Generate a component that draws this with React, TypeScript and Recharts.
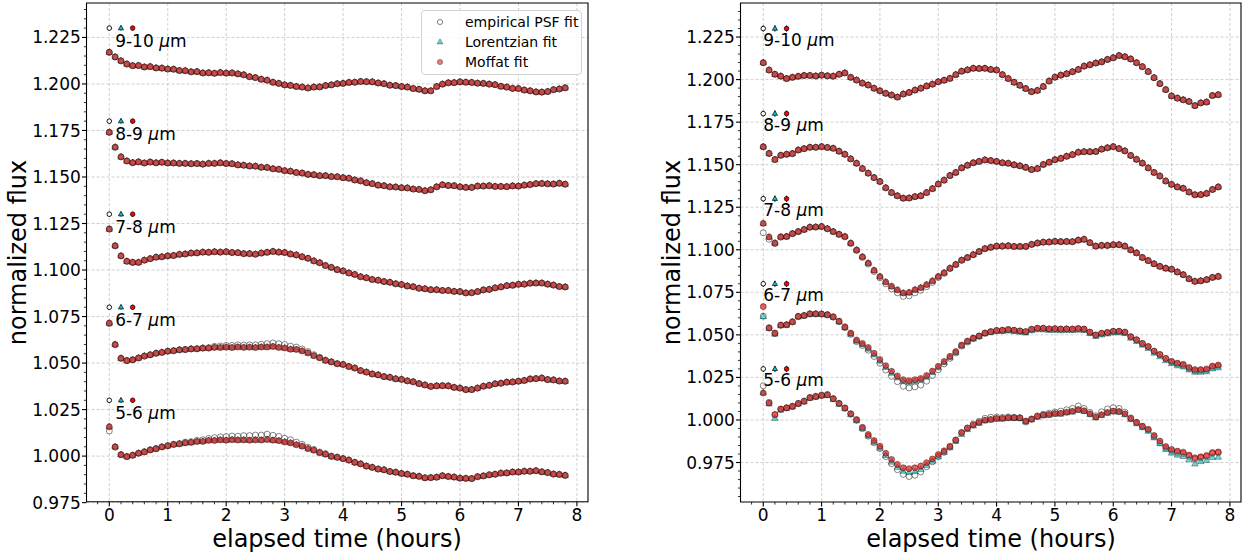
import { ScatterChart, Scatter, XAxis, YAxis, CartesianGrid, ReferenceArea, ErrorBar } from 'recharts'

const FONT = '"DejaVu Sans", sans-serif'

// elapsed time grid (hours)
const TIME = [
  0.0, 0.1, 0.2, 0.3, 0.4, 0.5, 0.6, 0.7, 0.8, 0.9,
  1.0, 1.1, 1.2, 1.3, 1.4, 1.5, 1.6, 1.7, 1.8, 1.9,
  2.0, 2.1, 2.2, 2.3, 2.4, 2.5, 2.6, 2.7, 2.8, 2.9,
  3.0, 3.1, 3.2, 3.3, 3.4, 3.5, 3.6, 3.7, 3.8, 3.9,
  4.0, 4.1, 4.2, 4.3, 4.4, 4.5, 4.6, 4.7, 4.8, 4.9,
  5.0, 5.1, 5.2, 5.3, 5.4, 5.5, 5.6, 5.7, 5.8, 5.9,
  6.0, 6.1, 6.2, 6.3, 6.4, 6.5, 6.6, 6.7, 6.8, 6.9,
  7.0, 7.1, 7.2, 7.3, 7.4, 7.5, 7.6, 7.7, 7.8,
]

// ---- left panel bands ----
const L910 = [
  1.2170, 1.2145, 1.2124, 1.2107, 1.2098, 1.2099, 1.2091, 1.2093, 1.2086, 1.2085,
  1.2080, 1.2079, 1.2072, 1.2071, 1.2065, 1.2066, 1.2059, 1.2060, 1.2057, 1.2061,
  1.2058, 1.2059, 1.2054, 1.2049, 1.2039, 1.2034, 1.2025, 1.2020, 1.2009, 1.2003,
  1.1995, 1.1992, 1.1986, 1.1983, 1.1978, 1.1983, 1.1984, 1.1991, 1.1995, 1.2001,
  1.2003, 1.2008, 1.2009, 1.2013, 1.2012, 1.2011, 1.2005, 1.2001, 1.1993, 1.1991,
  1.1986, 1.1983, 1.1975, 1.1971, 1.1963, 1.1963, 1.1986, 1.1999, 1.2006, 1.2007,
  1.2011, 1.2009, 1.2008, 1.2004, 1.2003, 1.1999, 1.1996, 1.1987, 1.1983, 1.1976,
  1.1975, 1.1967, 1.1963, 1.1957, 1.1956, 1.1959, 1.1969, 1.1973, 1.1979,
]
const L89 = [
  1.1740, 1.1660, 1.1608, 1.1586, 1.1577, 1.1581, 1.1575, 1.1580, 1.1576, 1.1579,
  1.1575, 1.1575, 1.1573, 1.1573, 1.1571, 1.1572, 1.1569, 1.1573, 1.1573, 1.1576,
  1.1572, 1.1571, 1.1565, 1.1563, 1.1559, 1.1558, 1.1552, 1.1551, 1.1544, 1.1541,
  1.1534, 1.1531, 1.1524, 1.1521, 1.1514, 1.1512, 1.1507, 1.1507, 1.1502, 1.1501,
  1.1496, 1.1493, 1.1484, 1.1479, 1.1469, 1.1464, 1.1456, 1.1453, 1.1447, 1.1446,
  1.1442, 1.1441, 1.1435, 1.1433, 1.1426, 1.1431, 1.1447, 1.1458, 1.1454, 1.1453,
  1.1447, 1.1444, 1.1444, 1.1451, 1.1451, 1.1453, 1.1449, 1.1449, 1.1448, 1.1452,
  1.1451, 1.1456, 1.1459, 1.1464, 1.1465, 1.1463, 1.1462, 1.1466, 1.1461,
]
const L78 = [
  1.1220, 1.1130, 1.1076, 1.1047, 1.1041, 1.1041, 1.1053, 1.1061, 1.1069, 1.1071,
  1.1076, 1.1078, 1.1084, 1.1086, 1.1091, 1.1092, 1.1096, 1.1095, 1.1098, 1.1096,
  1.1098, 1.1094, 1.1093, 1.1088, 1.1088, 1.1085, 1.1091, 1.1095, 1.1100, 1.1096,
  1.1094, 1.1086, 1.1081, 1.1071, 1.1063, 1.1049, 1.1039, 1.1024, 1.1014, 1.1002,
  1.0995, 1.0984, 1.0976, 1.0964, 1.0958, 1.0949, 1.0945, 1.0938, 1.0934, 1.0926,
  1.0922, 1.0914, 1.0910, 1.0902, 1.0899, 1.0894, 1.0894, 1.0890, 1.0890, 1.0885,
  1.0884, 1.0877, 1.0878, 1.0884, 1.0893, 1.0896, 1.0904, 1.0909, 1.0916, 1.0918,
  1.0923, 1.0924, 1.0929, 1.0930, 1.0930, 1.0924, 1.0919, 1.0911, 1.0909,
]
const L67 = [
  1.0715, 1.0600, 1.0526, 1.0513, 1.0518, 1.0527, 1.0538, 1.0544, 1.0553, 1.0557,
  1.0564, 1.0566, 1.0571, 1.0572, 1.0576, 1.0576, 1.0580, 1.0580, 1.0584, 1.0583,
  1.0585, 1.0583, 1.0586, 1.0584, 1.0585, 1.0583, 1.0586, 1.0586, 1.0589, 1.0584,
  1.0581, 1.0574, 1.0573, 1.0565, 1.0554, 1.0539, 1.0528, 1.0514, 1.0506, 1.0496,
  1.0492, 1.0481, 1.0473, 1.0459, 1.0451, 1.0441, 1.0436, 1.0427, 1.0423, 1.0415,
  1.0412, 1.0404, 1.0399, 1.0389, 1.0382, 1.0374, 1.0377, 1.0378, 1.0377, 1.0369,
  1.0365, 1.0357, 1.0357, 1.0365, 1.0375, 1.0380, 1.0388, 1.0391, 1.0397, 1.0398,
  1.0402, 1.0406, 1.0414, 1.0416, 1.0419, 1.0411, 1.0409, 1.0403, 1.0402,
]
const L67_EMP = [
  1.0712, 1.0598, 1.0525, 1.0514, 1.0517, 1.0528, 1.0537, 1.0545, 1.0552, 1.0558,
  1.0564, 1.0567, 1.0571, 1.0574, 1.0576, 1.0578, 1.0581, 1.0583, 1.0590, 1.0592,
  1.0595, 1.0595, 1.0598, 1.0597, 1.0598, 1.0598, 1.0601, 1.0604, 1.0608, 1.0604,
  1.0600, 1.0591, 1.0586, 1.0576, 1.0562, 1.0545, 1.0531, 1.0516, 1.0507, 1.0497,
  1.0493, 1.0482, 1.0474, 1.0460, 1.0452, 1.0442, 1.0437, 1.0428, 1.0424, 1.0416,
  1.0413, 1.0405, 1.0400, 1.0390, 1.0383, 1.0375, 1.0378, 1.0379, 1.0378, 1.0370,
  1.0366, 1.0358, 1.0358, 1.0366, 1.0376, 1.0381, 1.0389, 1.0392, 1.0398, 1.0399,
  1.0403, 1.0407, 1.0415, 1.0417, 1.0420, 1.0412, 1.0410, 1.0404, 1.0403,
]
const L56 = [
  1.0158, 1.0050, 1.0007, 0.9997, 1.0004, 1.0015, 1.0022, 1.0033, 1.0039, 1.0049,
  1.0055, 1.0062, 1.0065, 1.0071, 1.0073, 1.0078, 1.0079, 1.0084, 1.0084, 1.0087,
  1.0085, 1.0088, 1.0086, 1.0087, 1.0085, 1.0087, 1.0086, 1.0089, 1.0085, 1.0083,
  1.0076, 1.0071, 1.0061, 1.0053, 1.0040, 1.0031, 1.0018, 1.0010, 0.9998, 0.9993,
  0.9986, 0.9978, 0.9966, 0.9958, 0.9946, 0.9939, 0.9930, 0.9926, 0.9917, 0.9913,
  0.9906, 0.9902, 0.9894, 0.9891, 0.9883, 0.9884, 0.9886, 0.9894, 0.9890, 0.9887,
  0.9881, 0.9880, 0.9879, 0.9889, 0.9893, 0.9899, 0.9902, 0.9908, 0.9909, 0.9914,
  0.9914, 0.9918, 0.9918, 0.9921, 0.9915, 0.9911, 0.9903, 0.9901, 0.9896,
]
const L56_EMP = [
  1.0135, 1.0048, 1.0008, 0.9998, 1.0005, 1.0016, 1.0024, 1.0034, 1.0041, 1.0050,
  1.0057, 1.0064, 1.0068, 1.0075, 1.0078, 1.0085, 1.0088, 1.0095, 1.0099, 1.0103,
  1.0105, 1.0108, 1.0107, 1.0110, 1.0110, 1.0113, 1.0113, 1.0118, 1.0112, 1.0106,
  1.0096, 1.0088, 1.0075, 1.0064, 1.0048, 1.0036, 1.0022, 1.0013, 1.0000, 0.9995,
  0.9987, 0.9979, 0.9967, 0.9959, 0.9947, 0.9940, 0.9931, 0.9927, 0.9918, 0.9914,
  0.9907, 0.9903, 0.9895, 0.9892, 0.9884, 0.9885, 0.9887, 0.9895, 0.9891, 0.9888,
  0.9882, 0.9881, 0.9880, 0.9890, 0.9894, 0.9900, 0.9903, 0.9909, 0.9910, 0.9915,
  0.9915, 0.9919, 0.9919, 0.9922, 0.9916, 0.9912, 0.9904, 0.9902, 0.9897,
]

// ---- right panel bands ----
const R910 = [
  1.2099, 1.2056, 1.2031, 1.2020, 1.2006, 1.2013, 1.2019, 1.2024, 1.2024, 1.2021,
  1.2026, 1.2022, 1.2020, 1.2031, 1.2039, 1.2013, 1.1997, 1.1979, 1.1968, 1.1949,
  1.1934, 1.1919, 1.1909, 1.1897, 1.1915, 1.1924, 1.1938, 1.1949, 1.1962, 1.1973,
  1.1987, 1.1996, 1.2007, 1.2029, 1.2049, 1.2057, 1.2066, 1.2065, 1.2066, 1.2059,
  1.2056, 1.2029, 1.2006, 1.1984, 1.1966, 1.1947, 1.1929, 1.1936, 1.1959, 1.1991,
  1.2014, 1.2026, 1.2034, 1.2046, 1.2059, 1.2079, 1.2087, 1.2097, 1.2104, 1.2118,
  1.2128, 1.2141, 1.2134, 1.2121, 1.2099, 1.2076, 1.2047, 1.2011, 1.1976, 1.1941,
  1.1904, 1.1891, 1.1881, 1.1871, 1.1847, 1.1863, 1.1868, 1.1906, 1.1911,
]
const R89 = [
  1.1605, 1.1566, 1.1530, 1.1555, 1.1561, 1.1565, 1.1586, 1.1594, 1.1602, 1.1602,
  1.1606, 1.1601, 1.1596, 1.1579, 1.1561, 1.1534, 1.1508, 1.1477, 1.1450, 1.1424,
  1.1401, 1.1364, 1.1336, 1.1317, 1.1303, 1.1304, 1.1312, 1.1317, 1.1336, 1.1359,
  1.1386, 1.1409, 1.1436, 1.1454, 1.1481, 1.1496, 1.1511, 1.1519, 1.1528, 1.1524,
  1.1519, 1.1511, 1.1508, 1.1499, 1.1493, 1.1484, 1.1471, 1.1477, 1.1501, 1.1514,
  1.1529, 1.1537, 1.1549, 1.1559, 1.1573, 1.1576, 1.1576, 1.1577, 1.1591, 1.1599,
  1.1606, 1.1594, 1.1581, 1.1554, 1.1531, 1.1509, 1.1481, 1.1454, 1.1433, 1.1404,
  1.1384, 1.1369, 1.1361, 1.1339, 1.1323, 1.1324, 1.1331, 1.1354, 1.1369,
]
const R78 = [
  1.1155, 1.1075, 1.1040, 1.1076, 1.1078, 1.1095, 1.1107, 1.1119, 1.1133, 1.1134,
  1.1137, 1.1124, 1.1107, 1.1091, 1.1078, 1.1039, 1.0999, 1.0959, 1.0922, 1.0879,
  1.0843, 1.0811, 1.0785, 1.0764, 1.0746, 1.0749, 1.0765, 1.0777, 1.0795, 1.0817,
  1.0843, 1.0865, 1.0892, 1.0914, 1.0939, 1.0954, 1.0971, 1.0989, 1.1006, 1.1014,
  1.1021, 1.1021, 1.1023, 1.1019, 1.1019, 1.1019, 1.1031, 1.1039, 1.1044, 1.1045,
  1.1049, 1.1047, 1.1048, 1.1047, 1.1056, 1.1061, 1.1041, 1.1021, 1.1025, 1.1025,
  1.1029, 1.1029, 1.1021, 1.0999, 1.0981, 1.0954, 1.0936, 1.0917, 1.0902, 1.0891,
  1.0885, 1.0869, 1.0853, 1.0829, 1.0814, 1.0817, 1.0824, 1.0837, 1.0843,
]
const R78_EMP = [
  1.1100, 1.1062, 1.1036, 1.1074, 1.1077, 1.1094, 1.1106, 1.1118, 1.1132, 1.1133,
  1.1136, 1.1123, 1.1106, 1.1090, 1.1076, 1.1037, 1.0996, 1.0955, 1.0916, 1.0872,
  1.0835, 1.0800, 1.0770, 1.0747, 1.0726, 1.0729, 1.0747, 1.0762, 1.0783, 1.0808,
  1.0837, 1.0861, 1.0889, 1.0912, 1.0938, 1.0954, 1.0971, 1.0990, 1.1007, 1.1015,
  1.1022, 1.1022, 1.1024, 1.1020, 1.1020, 1.1020, 1.1032, 1.1040, 1.1045, 1.1046,
  1.1050, 1.1048, 1.1049, 1.1048, 1.1057, 1.1062, 1.1042, 1.1022, 1.1026, 1.1026,
  1.1030, 1.1030, 1.1022, 1.1000, 1.0982, 1.0955, 1.0937, 1.0918, 1.0903, 1.0892,
  1.0886, 1.0870, 1.0854, 1.0830, 1.0815, 1.0818, 1.0825, 1.0838, 1.0844,
]
const R67 = [
  1.0666, 1.0542, 1.0511, 1.0558, 1.0560, 1.0577, 1.0609, 1.0614, 1.0624, 1.0624,
  1.0623, 1.0619, 1.0607, 1.0581, 1.0548, 1.0511, 1.0470, 1.0450, 1.0426, 1.0392,
  1.0355, 1.0319, 1.0286, 1.0259, 1.0237, 1.0231, 1.0237, 1.0244, 1.0261, 1.0287,
  1.0315, 1.0344, 1.0374, 1.0402, 1.0441, 1.0464, 1.0482, 1.0494, 1.0511, 1.0519,
  1.0526, 1.0527, 1.0531, 1.0527, 1.0523, 1.0519, 1.0533, 1.0539, 1.0539, 1.0535,
  1.0536, 1.0534, 1.0535, 1.0534, 1.0537, 1.0534, 1.0516, 1.0499, 1.0509, 1.0514,
  1.0521, 1.0521, 1.0516, 1.0489, 1.0471, 1.0449, 1.0431, 1.0404, 1.0384, 1.0361,
  1.0345, 1.0334, 1.0327, 1.0309, 1.0296, 1.0296, 1.0300, 1.0317, 1.0323,
]
const R67_LOR = [
  1.0608, 1.0538, 1.0505, 1.0555, 1.0558, 1.0575, 1.0606, 1.0612, 1.0621, 1.0622,
  1.0621, 1.0616, 1.0604, 1.0577, 1.0543, 1.0504, 1.0463, 1.0442, 1.0417, 1.0383,
  1.0346, 1.0309, 1.0275, 1.0248, 1.0226, 1.0221, 1.0227, 1.0235, 1.0252, 1.0279,
  1.0307, 1.0337, 1.0367, 1.0396, 1.0435, 1.0459, 1.0477, 1.0490, 1.0507, 1.0514,
  1.0520, 1.0521, 1.0524, 1.0520, 1.0516, 1.0512, 1.0525, 1.0531, 1.0530, 1.0527,
  1.0527, 1.0525, 1.0527, 1.0526, 1.0528, 1.0526, 1.0508, 1.0491, 1.0500, 1.0506,
  1.0512, 1.0513, 1.0508, 1.0481, 1.0462, 1.0440, 1.0421, 1.0393, 1.0372, 1.0349,
  1.0331, 1.0319, 1.0312, 1.0294, 1.0281, 1.0281, 1.0284, 1.0301, 1.0307,
]
const R67_EMP = [
  1.0610, 1.0540, 1.0508, 1.0556, 1.0559, 1.0576, 1.0607, 1.0613, 1.0623, 1.0623,
  1.0622, 1.0617, 1.0604, 1.0577, 1.0542, 1.0503, 1.0460, 1.0437, 1.0410, 1.0373,
  1.0333, 1.0293, 1.0256, 1.0225, 1.0198, 1.0188, 1.0194, 1.0205, 1.0228, 1.0261,
  1.0295, 1.0329, 1.0362, 1.0394, 1.0434, 1.0458, 1.0478, 1.0492, 1.0510, 1.0519,
  1.0526, 1.0527, 1.0531, 1.0527, 1.0523, 1.0519, 1.0533, 1.0539, 1.0539, 1.0535,
  1.0536, 1.0534, 1.0535, 1.0534, 1.0537, 1.0534, 1.0516, 1.0499, 1.0509, 1.0514,
  1.0521, 1.0521, 1.0516, 1.0489, 1.0471, 1.0449, 1.0431, 1.0404, 1.0384, 1.0361,
  1.0340, 1.0328, 1.0320, 1.0302, 1.0289, 1.0290, 1.0293, 1.0310, 1.0316,
]
const R56 = [
  1.0158, 1.0099, 1.0032, 1.0064, 1.0071, 1.0079, 1.0096, 1.0109, 1.0130, 1.0137,
  1.0144, 1.0147, 1.0124, 1.0097, 1.0071, 1.0037, 1.0003, 0.9957, 0.9915, 0.9879,
  0.9846, 0.9804, 0.9768, 0.9739, 0.9719, 0.9714, 0.9719, 0.9729, 0.9749, 0.9771,
  0.9797, 0.9819, 0.9846, 0.9883, 0.9926, 0.9952, 0.9971, 0.9985, 0.9999, 1.0003,
  1.0009, 1.0009, 1.0013, 1.0013, 1.0013, 0.9994, 1.0006, 1.0021, 1.0029, 1.0032,
  1.0038, 1.0039, 1.0046, 1.0051, 1.0061, 1.0054, 1.0036, 1.0017, 1.0031, 1.0044,
  1.0052, 1.0050, 1.0036, 1.0009, 0.9986, 0.9964, 0.9946, 0.9909, 0.9876, 0.9844,
  0.9827, 0.9817, 0.9811, 0.9794, 0.9778, 0.9784, 0.9791, 0.9809, 0.9812,
]
const R56_LOR = [
  1.0160, 1.0095, 1.0010, 1.0058, 1.0068, 1.0077, 1.0094, 1.0107, 1.0128, 1.0135,
  1.0142, 1.0145, 1.0121, 1.0093, 1.0066, 1.0031, 0.9996, 0.9949, 0.9906, 0.9869,
  0.9835, 0.9792, 0.9753, 0.9722, 0.9699, 0.9692, 0.9697, 0.9710, 0.9733, 0.9758,
  0.9786, 0.9810, 0.9838, 0.9875, 0.9915, 0.9944, 0.9965, 0.9981, 0.9995, 1.0000,
  1.0005, 1.0006, 1.0010, 1.0010, 1.0009, 0.9990, 1.0002, 1.0017, 1.0025, 1.0028,
  1.0034, 1.0035, 1.0042, 1.0047, 1.0057, 1.0050, 1.0032, 1.0013, 1.0027, 1.0040,
  1.0048, 1.0046, 1.0031, 1.0003, 0.9978, 0.9955, 0.9935, 0.9896, 0.9861, 0.9827,
  0.9806, 0.9794, 0.9786, 0.9767, 0.9742, 0.9756, 0.9763, 0.9780, 0.9782,
]
const R56_EMP = [
  1.0201, 1.0104, 1.0030, 1.0063, 1.0072, 1.0081, 1.0098, 1.0112, 1.0133, 1.0140,
  1.0147, 1.0150, 1.0126, 1.0098, 1.0070, 1.0035, 0.9998, 0.9950, 0.9905, 0.9866,
  0.9832, 0.9785, 0.9743, 0.9708, 0.9680, 0.9668, 0.9675, 0.9695, 0.9725, 0.9754,
  0.9784, 0.9810, 0.9840, 0.9880, 0.9925, 0.9953, 0.9976, 0.9992, 1.0010, 1.0016,
  1.0017, 1.0015, 1.0018, 1.0016, 1.0012, 0.9988, 1.0004, 1.0024, 1.0034, 1.0040,
  1.0047, 1.0052, 1.0060, 1.0068, 1.0082, 1.0068, 1.0045, 1.0025, 1.0048, 1.0065,
  1.0072, 1.0068, 1.0046, 1.0012, 0.9985, 0.9960, 0.9940, 0.9901, 0.9866, 0.9835,
  0.9818, 0.9808, 0.9802, 0.9786, 0.9770, 0.9777, 0.9785, 0.9803, 0.9807,
]

const BAND_NAMES = ['9-10', '8-9', '7-8', '6-7', '5-6']
const LABEL_Y = [1.23, 1.18, 1.13, 1.08, 1.03]
const LABEL_MARKER_X = [0, 0.2, 0.4]
const SERIES_NAMES = ['empirical PSF fit', 'Lorentzian fit', 'Moffat fit']
const X_TICKS = [0, 1, 2, 3, 4, 5, 6, 7, 8]
const Y_TICKS = [0.975, 1.0, 1.025, 1.05, 1.075, 1.1, 1.125, 1.15, 1.175, 1.2, 1.225]
const X_DOMAIN = [-0.39, 8.19]

function minorTicks(from: number, to: number, step: number, majors: number[]) {
  const out: number[] = []
  for (let k = 0; from + k * step <= to + 1e-9; k++) {
    const v = Math.round((from + k * step) * 10000) / 10000
    if (!majors.some((m) => Math.abs(m - v) < 1e-9)) out.push(v)
  }
  return out
}

const isMajor = (v: number, majors: number[]) => majors.some((m) => Math.abs(m - v) < 1e-9)

const X_ALL = [...X_TICKS, ...minorTicks(-0.2, 8.0, 0.2, X_TICKS)].sort((a, b) => a - b)

const LEFT = {
  left: 0,
  width: 620,
  margin: { top: 3, right: 32, bottom: 25.3, left: 26.5 },
  yDomain: [0.9755, 1.2435],
  yAll: [...Y_TICKS, ...minorTicks(0.98, 1.24, 0.005, Y_TICKS)].sort((a, b) => a - b),
  emp: [L910, L89, L78, L67_EMP, L56_EMP],
  lor: [L910, L89, L78, L67, L56],
  mof: [L910, L89, L78, L67, L56],
  err: 0.0013,
  textX: 0.1,
  textDy: 18.5,
}

const RIGHT = {
  left: 620,
  width: 624,
  margin: { top: 3, right: 3, bottom: 25, left: 60.5 },
  yDomain: [0.9518, 1.245],
  yAll: [...Y_TICKS, ...minorTicks(0.955, 1.24, 0.005, Y_TICKS)].sort((a, b) => a - b),
  emp: [R910, R89, R78_EMP, R67_EMP, R56_EMP],
  lor: [R910, R89, R78, R67_LOR, R56_LOR],
  mof: [R910, R89, R78, R67, R56],
  err: 0.0018,
  textX: 0.0,
  textDy: 17,
}

type PanelCfg = typeof LEFT

const toPoints = (bands: number[][]) => bands.flatMap((b) => TIME.map((t, i) => ({ t, v: b[i] })))

const triPoints = (cx: number, cy: number, s: number) =>
  `${cx},${cy - 1.1 * s} ${cx - s},${cy + 0.65 * s} ${cx + s},${cy + 0.65 * s}`

const empShape = (p: any) => (
  <circle cx={p.cx} cy={p.cy} r={3} fill="none" stroke="#000" strokeWidth={0.8} strokeOpacity={0.6} />
)
const lorShape = (p: any) => (
  <polygon
    points={triPoints(p.cx, p.cy, 3.3)}
    fill="#00bfbf"
    fillOpacity={0.6}
    stroke="#000"
    strokeOpacity={0.55}
    strokeWidth={0.6}
  />
)
const mofShape = (p: any) => (
  <circle cx={p.cx} cy={p.cy} r={3} fill="#e81010" fillOpacity={0.68} stroke="#000" strokeOpacity={0.6} strokeWidth={0.7} />
)

// key markers next to each band label
const keyEmp = (p: any) => <circle cx={p.cx} cy={p.cy} r={2.3} fill="#fff" stroke="#000" strokeWidth={0.9} />
const keyLor = (p: any) => (
  <polygon points={triPoints(p.cx, p.cy, 2.6)} fill="#00c8c8" stroke="#000" strokeWidth={0.7} />
)
const keyMof = (p: any) => <circle cx={p.cx} cy={p.cy} r={2.3} fill="#ff0000" stroke="#000" strokeWidth={0.7} />

const labelShape = (dy: number) => (p: any) => (
  <text x={p.cx} y={p.cy + dy} fontFamily={FONT} fontSize={17} fill="#000">
    {p.payload.name}{' '}
    <tspan fontStyle="italic">μ</tspan>m
  </text>
)

const xTick = (p: any) => {
  const major = isMajor(p.payload.value, X_TICKS)
  return (
    <g>
      <line x1={p.x} x2={p.x} y1={p.y} y2={p.y + (major ? 4.5 : 2.6)} stroke="#000" strokeWidth={major ? 1.1 : 0.8} />
      {major && (
        <text x={p.x} y={p.y + 7} dy="0.71em" textAnchor="middle" fontFamily={FONT} fontSize={17} fill="#000">
          {p.payload.value}
        </text>
      )}
    </g>
  )
}

const yTick = (p: any) => {
  const major = isMajor(p.payload.value, Y_TICKS)
  return (
    <g>
      <line x1={p.x} x2={p.x - (major ? 4.5 : 2.6)} y1={p.y} y2={p.y} stroke="#000" strokeWidth={major ? 1.1 : 0.8} />
      {major && (
        <text x={p.x - 5.7} y={p.y} dy="0.355em" textAnchor="end" fontFamily={FONT} fontSize={17} fill="#000">
          {p.payload.value.toFixed(3)}
        </text>
      )}
    </g>
  )
}

function Panel({ cfg }: { cfg: PanelCfg }) {
  const emp = toPoints(cfg.emp)
  const lor = toPoints(cfg.lor)
  const mof = toPoints(cfg.mof)
  const key = (k: number) => LABEL_Y.map((v) => ({ t: LABEL_MARKER_X[k], v, err: cfg.err }))
  const labels = LABEL_Y.map((v, i) => ({ t: cfg.textX, v, name: BAND_NAMES[i] }))

  return (
    <div style={{ position: 'absolute', left: cfg.left, top: 0 }}>
      <ScatterChart width={cfg.width} height={557} margin={cfg.margin}>
        <CartesianGrid
          stroke="#c4c4c4"
          strokeDasharray="3 2"
          strokeWidth={0.8}
          verticalValues={X_TICKS}
          horizontalValues={Y_TICKS}
        />
        <XAxis
          type="number"
          dataKey="t"
          domain={X_DOMAIN}
          ticks={X_ALL}
          interval={0}
          allowDataOverflow
          height={30}
          axisLine={false}
          tickLine={false}
          tickSize={0}
          tickMargin={0}
          tick={xTick}
        />
        <YAxis
          type="number"
          dataKey="v"
          domain={cfg.yDomain}
          ticks={cfg.yAll}
          interval={0}
          allowDataOverflow
          width={60}
          axisLine={false}
          tickLine={false}
          tickSize={0}
          tickMargin={0}
          tick={yTick}
        />
        <Scatter name={SERIES_NAMES[0]} data={emp} shape={empShape} isAnimationActive={false} />
        <Scatter name={SERIES_NAMES[1]} data={lor} shape={lorShape} isAnimationActive={false} />
        <Scatter name={SERIES_NAMES[2]} data={mof} shape={mofShape} isAnimationActive={false} />
        <Scatter data={key(0)} shape={keyEmp} isAnimationActive={false}>
          <ErrorBar dataKey="err" direction="y" width={0} stroke="#000" strokeWidth={1} />
        </Scatter>
        <Scatter data={key(1)} shape={keyLor} isAnimationActive={false}>
          <ErrorBar dataKey="err" direction="y" width={0} stroke="#000" strokeWidth={1} />
        </Scatter>
        <Scatter data={key(2)} shape={keyMof} isAnimationActive={false}>
          <ErrorBar dataKey="err" direction="y" width={0} stroke="#000" strokeWidth={1} />
        </Scatter>
        <Scatter data={labels} shape={labelShape(cfg.textDy)} isAnimationActive={false} />
        <ReferenceArea
          x1={X_DOMAIN[0]}
          x2={X_DOMAIN[1]}
          y1={cfg.yDomain[0]}
          y2={cfg.yDomain[1]}
          fill="none"
          stroke="#000"
          strokeWidth={1.1}
          ifOverflow="visible"
        />
      </ScatterChart>
    </div>
  )
}

function LegendBox() {
  const icons = [
    <circle cx={18} cy={10} r={2.6} fill="none" stroke="#000" strokeWidth={0.8} strokeOpacity={0.6} />,
    <polygon points={triPoints(18, 10, 2.9)} fill="#00bfbf" fillOpacity={0.6} stroke="#000" strokeOpacity={0.55} strokeWidth={0.6} />,
    <circle cx={18} cy={10} r={2.6} fill="#e81010" fillOpacity={0.55} stroke="#000" strokeOpacity={0.6} strokeWidth={0.6} />,
  ]
  return (
    <div
      style={{
        position: 'absolute',
        left: 421,
        top: 10,
        width: 161,
        height: 65,
        boxSizing: 'border-box',
        border: '1px solid #d3d3d3',
        borderRadius: 4,
        background: 'rgba(255,255,255,0.8)',
        fontFamily: FONT,
        fontSize: 14,
        color: '#000',
        paddingTop: 0.5,
      }}
    >
      {SERIES_NAMES.map((name, i) => (
        <div key={name} style={{ display: 'flex', alignItems: 'center', height: 20.3 }}>
          <svg width={40} height={20} style={{ flex: 'none' }}>
            {icons[i]}
          </svg>
          <span style={{ marginLeft: 3, whiteSpace: 'nowrap' }}>{name}</span>
        </div>
      ))}
    </div>
  )
}

export default function App() {
  return (
    <div style={{ position: 'absolute', left: 0, top: 0, width: 1244, height: 557, background: '#fff' }}>
      <Panel cfg={LEFT} />
      <Panel cfg={RIGHT} />
      <LegendBox />
      <svg width={1244} height={557} style={{ position: 'absolute', left: 0, top: 0, pointerEvents: 'none' }}>
        <g fontFamily={FONT} fontSize={24} fill="#000" textAnchor="middle">
          <text x={337} y={546.5}>elapsed time (hours)</text>
          <text x={991} y={546.5}>elapsed time (hours)</text>
          <text transform="translate(25.5,252.5) rotate(-90)">normalized flux</text>
          <text transform="translate(679.5,252.5) rotate(-90)">normalized flux</text>
        </g>
      </svg>
    </div>
  )
}
